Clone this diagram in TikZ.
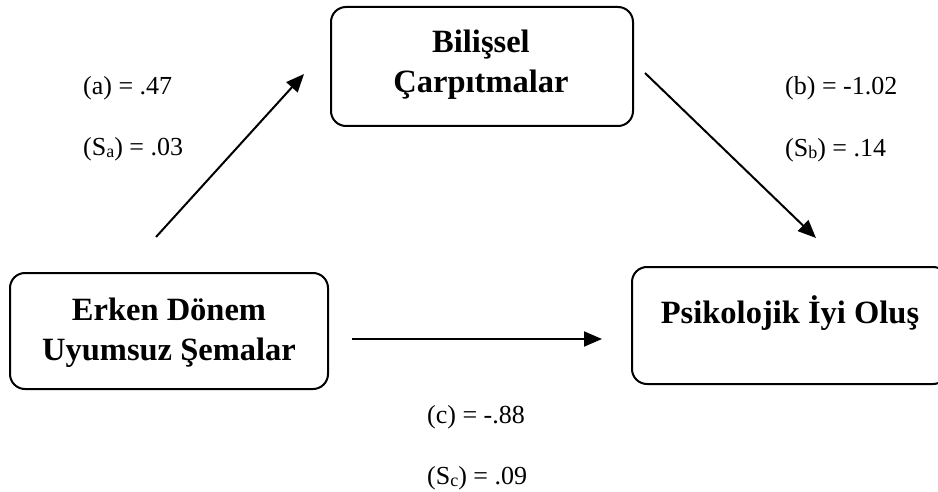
\documentclass[tikz,border=0pt]{standalone}
\usepackage{fontspec}
\setmainfont{Liberation Serif}
\usetikzlibrary{arrows.meta}
\tikzset{
  varbox/.style={draw, line width=2pt, rounded corners=15pt, inner sep=0pt},
  boxtext/.style={inner sep=0pt, align=center, font=\fontsize{32.5}{40}\selectfont\bfseries},
  coef/.style={inner sep=0pt, anchor=west, font=\fontsize{26}{30}\selectfont},
  path/.style={line width=2pt, -{Triangle[length=18pt,width=15pt]}}
}
\newcommand{\sub}[1]{\raisebox{-0.2ex}{\fontsize{18}{20}\selectfont #1}}
\begin{document}
\begin{tikzpicture}[x=1pt,y=-1pt]
\useasboundingbox (0,0) rectangle (938,492);
\clip (0,0) rectangle (938,492);
\node[varbox, minimum width=318pt, minimum height=116pt] (eds) at (169,331) {};
\node[boxtext] (edst) at (169,333) {Erken Dönem\\Uyumsuz Şemalar};
\node[varbox, minimum width=302pt, minimum height=119pt] (bc) at (482,66.5) {};
\node[boxtext] (bct) at (481,65) {Bilişsel\\Çarpıtmalar};
\node[varbox, minimum width=316pt, minimum height=117pt] (pio) at (790,325.5) {};
\node[boxtext] (piot) at (790,313) {Psikolojik İyi Oluş};
\coordinate (a0) at (156,237);
\coordinate (a1) at (304,74);
\coordinate (b0) at (645,73);
\coordinate (b1) at (816,238);
\coordinate (c0) at (352,339);
\coordinate (c1) at (602,339);
\draw[path] (a0) -- (a1);
\draw[path] (b0) -- (b1);
\draw[path] (c0) -- (c1);
\node[coef] (la) at (83,88) {(a) = .47};
\node[coef] (lsa) at (83,149) {(S\sub{a}) = .03};
\node[coef] (lb) at (785,88) {(b) = -1.02};
\node[coef] (lsb) at (785,150) {(S\sub{b}) = .14};
\node[coef] (lc) at (427,417) {(c) = -.88};
\node[coef] (lsc) at (427,478) {(S\sub{c}) = .09};
\end{tikzpicture}
\end{document}
